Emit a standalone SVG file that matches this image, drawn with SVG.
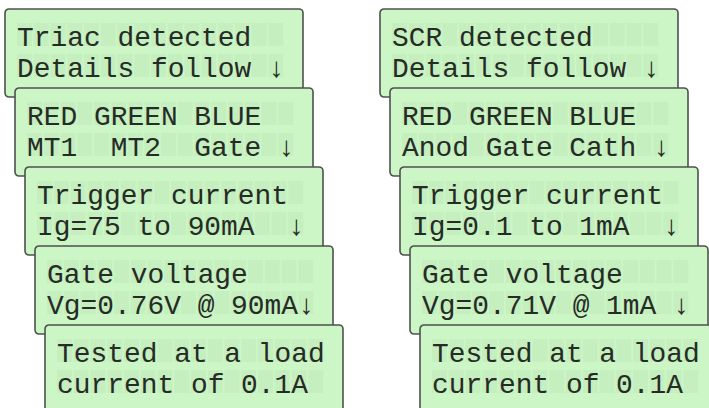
<svg xmlns="http://www.w3.org/2000/svg" width="709" height="408" viewBox="0 0 709 408">
<defs>
<style>
.lcd{fill:#ccf6c6;stroke:#4d524d;stroke-width:1.6}
.t{font-family:"Liberation Mono","DejaVu Sans Mono",monospace;font-size:27.9px;fill:#262b26;white-space:pre}
.cells rect{fill:#bfeab9;opacity:0.55}
</style>
<g id="cellgrid" class="cells">
<rect x="12" y="14" width="15" height="23"/><rect x="28.75" y="14" width="15" height="23"/><rect x="45.5" y="14" width="15" height="23"/><rect x="62.25" y="14" width="15" height="23"/><rect x="79" y="14" width="15" height="23"/><rect x="95.75" y="14" width="15" height="23"/><rect x="112.5" y="14" width="15" height="23"/><rect x="129.25" y="14" width="15" height="23"/><rect x="146" y="14" width="15" height="23"/><rect x="162.75" y="14" width="15" height="23"/><rect x="179.5" y="14" width="15" height="23"/><rect x="196.25" y="14" width="15" height="23"/><rect x="213" y="14" width="15" height="23"/><rect x="229.75" y="14" width="15" height="23"/><rect x="246.5" y="14" width="15" height="23"/><rect x="263.25" y="14" width="15" height="23"/>
<rect x="12" y="45" width="15" height="23"/><rect x="28.75" y="45" width="15" height="23"/><rect x="45.5" y="45" width="15" height="23"/><rect x="62.25" y="45" width="15" height="23"/><rect x="79" y="45" width="15" height="23"/><rect x="95.75" y="45" width="15" height="23"/><rect x="112.5" y="45" width="15" height="23"/><rect x="129.25" y="45" width="15" height="23"/><rect x="146" y="45" width="15" height="23"/><rect x="162.75" y="45" width="15" height="23"/><rect x="179.5" y="45" width="15" height="23"/><rect x="196.25" y="45" width="15" height="23"/><rect x="213" y="45" width="15" height="23"/><rect x="229.75" y="45" width="15" height="23"/><rect x="246.5" y="45" width="15" height="23"/><rect x="263.25" y="45" width="15" height="23"/>
</g>
<rect id="panel" class="lcd" x="0" y="0" width="298" height="88" rx="4"/>
</defs>
<rect width="709" height="408" fill="#ffffff"/>

<g id="triac-1" transform="translate(5,9)">
<use href="#panel"/><use href="#cellgrid"/>
<text class="t" x="12" y="37" xml:space="preserve">Triac detected</text>
<text class="t" x="12" y="68" xml:space="preserve">Details follow ↓</text>
</g>
<g id="triac-2" transform="translate(15,88)">
<use href="#panel"/><use href="#cellgrid"/>
<text class="t" x="12" y="37" xml:space="preserve">RED GREEN BLUE</text>
<text class="t" x="12" y="68" xml:space="preserve">MT1  MT2  Gate ↓</text>
</g>
<g id="triac-3" transform="translate(25,167)">
<use href="#panel"/><use href="#cellgrid"/>
<text class="t" x="12" y="37" xml:space="preserve">Trigger current</text>
<text class="t" x="12" y="68" xml:space="preserve">Ig=75 to 90mA  ↓</text>
</g>
<g id="triac-4" transform="translate(35,246)">
<use href="#panel"/><use href="#cellgrid"/>
<text class="t" x="12" y="37" xml:space="preserve">Gate voltage</text>
<text class="t" x="12" y="68" xml:space="preserve">Vg=0.76V @ 90mA↓</text>
</g>
<g id="triac-5" transform="translate(45,325)">
<use href="#panel"/><use href="#cellgrid"/>
<text class="t" x="12" y="37" xml:space="preserve">Tested at a load</text>
<text class="t" x="12" y="68" xml:space="preserve">current of 0.1A</text>
</g>

<g id="scr-1" transform="translate(380,9)">
<use href="#panel"/><use href="#cellgrid"/>
<text class="t" x="12" y="37" xml:space="preserve">SCR detected</text>
<text class="t" x="12" y="68" xml:space="preserve">Details follow ↓</text>
</g>
<g id="scr-2" transform="translate(390,88)">
<use href="#panel"/><use href="#cellgrid"/>
<text class="t" x="12" y="37" xml:space="preserve">RED GREEN BLUE</text>
<text class="t" x="12" y="68" xml:space="preserve">Anod Gate Cath ↓</text>
</g>
<g id="scr-3" transform="translate(400,167)">
<use href="#panel"/><use href="#cellgrid"/>
<text class="t" x="12" y="37" xml:space="preserve">Trigger current</text>
<text class="t" x="12" y="68" xml:space="preserve">Ig=0.1 to 1mA  ↓</text>
</g>
<g id="scr-4" transform="translate(410,246)">
<use href="#panel"/><use href="#cellgrid"/>
<text class="t" x="12" y="37" xml:space="preserve">Gate voltage</text>
<text class="t" x="12" y="68" xml:space="preserve">Vg=0.71V @ 1mA ↓</text>
</g>
<g id="scr-5" transform="translate(420,325)">
<use href="#panel"/><use href="#cellgrid"/>
<text class="t" x="12" y="37" xml:space="preserve">Tested at a load</text>
<text class="t" x="12" y="68" xml:space="preserve">current of 0.1A</text>
</g>
</svg>
